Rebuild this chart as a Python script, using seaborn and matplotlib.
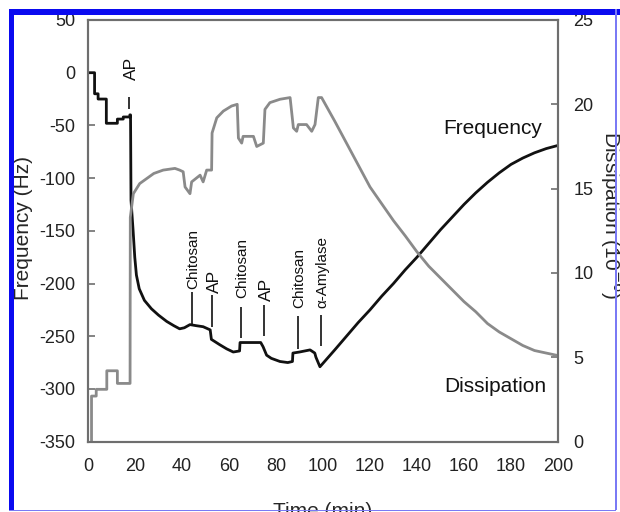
import matplotlib
matplotlib.use("Agg")
import matplotlib.pyplot as plt
from matplotlib.patches import Rectangle
import seaborn as sns

# frequency trace (Hz), black
freq_time = [0, 2.8, 2.8, 4.3, 4.3, 7.8, 7.8, 12.5, 12.5, 15,
             15, 17.8, 17.8, 18.1, 18.3, 19.2, 19.9, 20.6, 21.8, 24,
             27, 30, 33.5, 36.5, 39, 41, 43.4, 46, 49, 52,
             52.5, 56, 59, 61.8, 64.5, 64.7, 73.5, 74.5, 76, 78,
             81.7, 85, 87, 87.2, 90, 94.5, 96.5, 97, 98.7, 105,
             110, 115, 120, 125, 130, 135, 140, 145, 150, 155,
             160, 165, 170, 175, 180, 185, 190, 195, 200]
freq_hz = [0, 0, -20, -20, -25, -25, -48, -48, -44, -44,
           -42, -42, -40, -40, -121, -150, -175, -192, -205, -216,
           -224, -230, -236, -240, -243, -242, -239, -240, -241, -244,
           -253, -258, -262, -265, -264, -256, -256, -260, -268, -271,
           -274, -275, -274, -266, -265, -263, -266, -270, -279, -263,
           -250, -237, -225, -212, -200, -187, -175, -162, -149, -137,
           -125, -114, -104, -95, -87, -81, -76, -72, -69]

# dissipation trace (1e-6), gray
diss_time = [1.5, 1.5, 3.5, 3.5, 8, 8, 12.5, 12.5, 17.9, 18.0,
             19.3, 22, 25, 28, 32, 37, 39, 40.5, 41.3, 43.4,
             44.1, 47.7, 49, 50.5, 52.6, 52.8, 54.8, 57.6, 61.1, 63.5,
             64, 65.4, 66, 70.4, 71.8, 74.6, 75.3, 77.4, 81.7, 86,
             87.4, 88.8, 89.5, 93, 95.2, 96.6, 98, 99.4, 105, 110,
             115, 120, 125, 130, 135, 140, 145, 150, 155, 160,
             165, 170, 175, 180, 185, 190, 195, 200]
diss_val = [0, 2.7, 2.7, 3.1, 3.1, 4.2, 4.2, 3.45, 3.45, 13.3,
            14.7, 15.3, 15.6, 15.9, 16.1, 16.2, 16.1, 16.0, 15.1, 14.7,
            15.4, 15.8, 15.4, 16.1, 16.1, 18.3, 19.2, 19.6, 19.9, 20.0,
            18.0, 17.7, 18.1, 18.1, 17.5, 17.7, 19.7, 20.1, 20.3, 20.4,
            18.6, 18.4, 18.8, 18.8, 18.4, 18.8, 20.4, 20.4, 19.0, 17.7,
            16.4, 15.1, 14.1, 13.1, 12.2, 11.25, 10.4, 9.7, 9.0, 8.3,
            7.7, 7.0, 6.5, 6.1, 5.7, 5.4, 5.25, 5.1]

# injection events: label, time of marker, marker span (Hz), text start (Hz)
event_labels = ["AP", "Chitosan", "AP", "Chitosan", "AP", "Chitosan", "\u03b1-Amylase"]
event_times = [17.6, 44.1, 52.9, 65.0, 75.0, 89.2, 99.0]
event_top = [-23, -208, -211, -222, -220, -231, -230]
event_bottom = [-34, -238, -241, -252, -250, -262, -259]
event_text_y = [-7, -205, -209, -214, -217, -223, -223]

sns.set_style("white")
plt.rcParams["font.family"] = ["Liberation Sans", "DejaVu Sans"]
plt.rcParams["axes.unicode_minus"] = False

fig = plt.figure(figsize=(6.2, 5.12), dpi=100)
ax = fig.add_axes([88 / 620, 1 - 441.6 / 512, 470 / 620, 421.6 / 512])
ax2 = ax.twinx()

sns.lineplot(x=freq_time, y=freq_hz, ax=ax, color="#111111", lw=2.0,
             estimator=None, sort=False, legend=False)
sns.lineplot(x=diss_time, y=diss_val, ax=ax2, color="#8a8a8a", lw=2.0,
             estimator=None, sort=False, legend=False)

ax.set_xlim(0, 200)
ax.set_ylim(-350, 50)
ax2.set_ylim(0, 25)
ax.set_xticks(range(0, 201, 20))
ax.set_yticks(range(-350, 51, 50))
ax2.set_yticks(range(0, 26, 5))

spine_col = "#6e6e6e"
for a in (ax, ax2):
    for s in a.spines.values():
        s.set_color(spine_col)
        s.set_linewidth(1.5)
ax.tick_params(axis="x", direction="in", length=5, width=1.2, color=spine_col,
               labelsize=13, labelcolor="#222222", pad=12)
ax.tick_params(axis="y", direction="in", length=5, width=1.2, color=spine_col,
               labelsize=13, labelcolor="#222222", pad=9)
ax2.tick_params(axis="y", direction="in", length=5, width=1.2, color=spine_col,
                labelsize=13, labelcolor="#222222", pad=11)

ax.set_xlabel("Time (min)", fontsize=15, va="top")
ax.xaxis.set_label_coords(0.5, -0.143)
ax.set_ylabel("Frequency (Hz)", fontsize=15, va="center")
ax.yaxis.set_label_coords(-0.138, 0.507)
ax2.set_ylabel("Dissipation (10$^{-6}$)", fontsize=15, rotation=270, va="center")
ax2.yaxis.set_label_coords(1.115, 0.537)

# injection markers
for lab, t, top, bot, ty in zip(event_labels, event_times, event_top,
                                event_bottom, event_text_y):
    ax.vlines(t, bot, top, color="#111111", lw=1.2)
    size = 12.5 if lab == "AP" else 11
    ax.text(t + 0.8, ty, lab, rotation=90, ha="center", va="bottom",
            fontsize=size, color="#111111")

ax.text(172.3, -52.5, "Frequency", fontsize=15, ha="center", va="center", color="#111111")
ax.text(173.2, -298, "Dissipation", fontsize=15, ha="center", va="center", color="#111111")

# blue frame around the picture
blue = "#0a0af0"
fig.add_artist(Rectangle((9 / 620, 1 - 15 / 512), 611 / 620, 6 / 512,
                         transform=fig.transFigure, color=blue, lw=0))
fig.add_artist(Rectangle((9 / 620, 1 - 510 / 512), 5 / 620, 501 / 512,
                         transform=fig.transFigure, color=blue, lw=0))
fig.add_artist(Rectangle((615 / 620, 1 - 510 / 512), 1.5 / 620, 501 / 512,
                         transform=fig.transFigure, color="#7a7af5", lw=0))
fig.add_artist(Rectangle((9 / 620, 1 - 511 / 512), 607 / 620, 1.5 / 512,
                         transform=fig.transFigure, color="#7a7af5", lw=0))

fig.savefig("out.png", dpi=100)
